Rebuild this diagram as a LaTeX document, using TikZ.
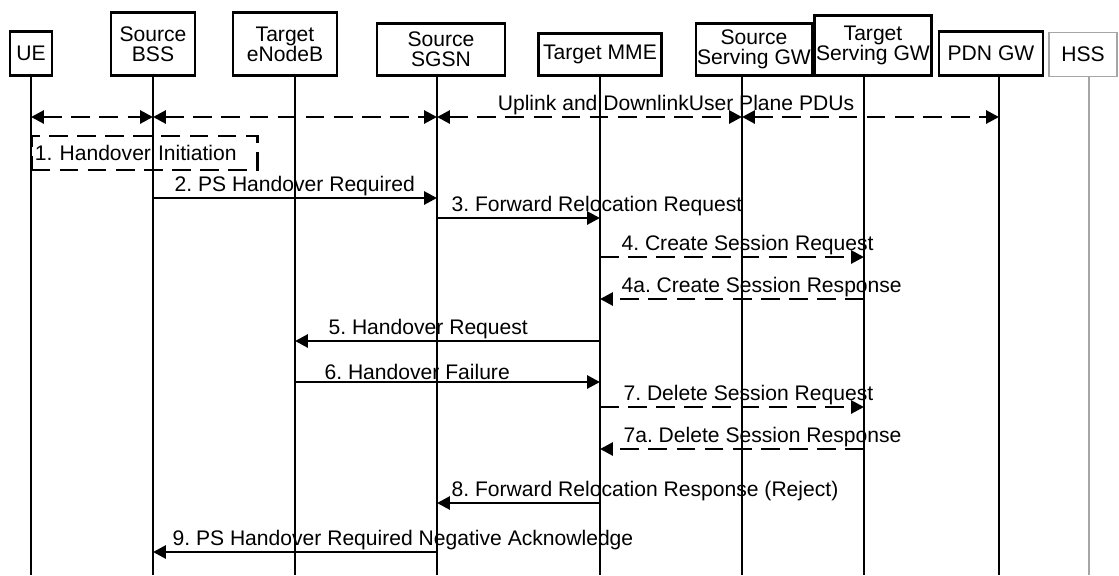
\documentclass[tikz,border=0pt]{standalone}
\usepackage{fontspec}
\setmainfont{Liberation Sans}
\usetikzlibrary{arrows.meta}
\frenchspacing

\begin{document}
\begin{tikzpicture}[x=0.03cm, y=-0.03cm, >={Triangle[length=11pt, width=11pt]},
    font=\fontsize{18}{17}\selectfont,
    box/.style={draw, line width=2.4pt, inner sep=0pt, align=center, anchor=south},
    life/.style={line width=2pt},
    msg/.style={line width=2.5pt},
    dsh/.style={msg, dash pattern=on 16pt off 8pt},
    lbl/.style={anchor=south west, inner sep=2pt}]
    \useasboundingbox (0,0) rectangle (1119,575);

    \node[box, minimum width=1.26cm, minimum height=1.32cm] (uebox) at (31,77) {UE};
    \node[box, minimum width=2.52cm, minimum height=1.89cm] (bssbox) at (153,77) {Source\\BSS};
    \node[box, minimum width=3.12cm, minimum height=1.89cm] (enbbox) at (285,77) {Target\\eNodeB};
    \node[box, minimum width=3.84cm, minimum height=1.56cm] (sgsnbox) at (441,77) {Source\\SGSN};
    \node[box, minimum width=3.69cm, minimum height=1.26cm] (mmebox) at (600,77) {Target MME};
    \node[box, minimum width=3.48cm, minimum height=1.56cm] (sgwbox) at (754,77) {Source\\Serving GW};
    \node[box, minimum width=3.51cm, minimum height=1.80cm] (tsgwbox) at (873,77) {Target\\Serving GW};
    \node[box, minimum width=3.12cm, minimum height=1.32cm] (pdnbox) at (991,77) {PDN GW};
    \node[box, draw=gray!70, line width=1.2pt, minimum width=2.04cm, minimum height=1.32cm] (hssbox) at (1083,77) {HSS};

    \coordinate (ue) at (31,77);
    \coordinate (bss) at (153,77);
    \coordinate (enb) at (295,77);
    \coordinate (sgsn) at (437,77);
    \coordinate (mme) at (600,77);
    \coordinate (sgw) at (742,77);
    \coordinate (tsgw) at (864,77);
    \coordinate (pdn) at (999,77);
    \coordinate (hss) at (1089,77);

    \draw[life] (ue) -- (ue |- 0,575);
    \draw[life] (bss) -- (bss |- 0,575);
    \draw[life, line width=1.5pt] (enb) -- (enb |- 0,575);
    \draw[life, line width=1.5pt] (sgsn) -- (sgsn |- 0,575);
    \draw[life] (mme) -- (mme |- 0,575);
    \draw[life] (sgw) -- (sgw |- 0,575);
    \draw[life] (tsgw) -- (tsgw |- 0,575);
    \draw[life] (pdn) -- (pdn |- 0,575);
    \draw[life, gray!70, line width=1.2pt] (hss) -- (hss |- 0,575);

    \draw[dsh, <->] (ue |- 0,117) -- (bss |- 0,117);
    \draw[dsh, <->] (bss |- 0,117) -- (sgsn |- 0,117);
    \draw[dsh, <->] (sgsn |- 0,117) -- (sgw |- 0,117);
    \draw[dsh, <->] (sgw |- 0,117) -- (pdn |- 0,117);
    \node[above, inner sep=2pt] (updu) at (676,117) {Uplink and DownlinkUser Plane PDUs};

    \node[draw, dsh, anchor=west, minimum height=1.02cm, text width=6.57cm, inner xsep=3pt] (init) at (30,153) {1. Handover Initiation};

    \draw[msg, ->] (bss |- 0,198) -- (sgsn |- 0,198);
    \node[lbl] (l2) at (172,198) {2. PS Handover Required};
    \draw[msg, ->] (sgsn |- 0,218) -- (mme |- 0,218);
    \node[lbl] (l3) at (449,218) {3. Forward Relocation Request};
    \draw[dsh, ->] (mme |- 0,257) -- (tsgw |- 0,257);
    \node[lbl] (l4) at (619,257) {4. Create Session Request};
    \draw[dsh, ->] (tsgw |- 0,299) -- (mme |- 0,299);
    \node[lbl] (l4a) at (619,299) {4a. Create Session Response};
    \draw[msg, ->] (mme |- 0,341) -- (enb |- 0,341);
    \node[lbl] (l5) at (326,341) {5. Handover Request};
    \draw[msg, ->] (enb |- 0,382) -- (mme |- 0,382);
    \node[lbl] (l6) at (322,382) {6. Handover Failure};
    \draw[dsh, ->] (mme |- 0,407) -- (tsgw |- 0,407);
    \node[lbl] (l7) at (621,407) {7. Delete Session Request};
    \draw[dsh, ->] (tsgw |- 0,449) -- (mme |- 0,449);
    \node[lbl] (l7a) at (621,449) {7a. Delete Session Response};
    \draw[msg, ->] (mme |- 0,503) -- (sgsn |- 0,503);
    \node[lbl] (l8) at (449,503) {8. Forward Relocation Response (Reject)};
    \draw[msg, ->] (sgsn |- 0,552) -- (bss |- 0,552);
    \node[lbl] (l9) at (170,552) {9. PS Handover Required Negative Acknowledge};
\end{tikzpicture}
\end{document}
